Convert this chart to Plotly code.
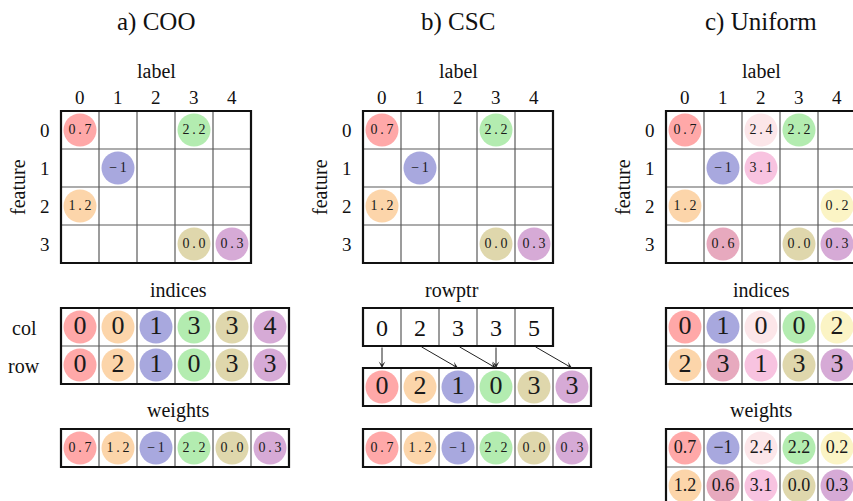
import plotly.graph_objects as go

# ---------------------------------------------------------------- data
panel_titles = ["a) COO", "b) CSC", "c) Uniform"]
label_ticks = ["0", "1", "2", "3", "4"]
feature_ticks = ["0", "1", "2", "3"]

# non-zero entries of the feature x label matrix, ordered by label column
nz_feature = [0, 2, 1, 0, 3, 3]
nz_label = [0, 0, 1, 3, 3, 4]
nz_weight = ["0.7", "1.2", "\u22121", "2.2", "0.0", "0.3"]
nz_color = ["#FFA8A8", "#FCD5AA", "#A8A8DE", "#B3ECB0", "#DFD7AC", "#D6AAD6"]

# compressed column pointers
csc_rowptr = [0, 2, 3, 3, 5]

# uniform layout: two (feature, weight) slots per label
uni_feature = [[0, 1, 0, 0, 2], [2, 3, 1, 3, 3]]
uni_weight = [["0.7", "\u22121", "2.4", "2.2", "0.2"],
              ["1.2", "0.6", "3.1", "0.0", "0.3"]]
uni_color = [["#FFA8A8", "#A8A8DE", "#FCE6E9", "#B3ECB0", "#FBF4C5"],
             ["#FCD5AA", "#E7A9BE", "#F8C3E0", "#DFD7AC", "#D6AAD6"]]

# ---------------------------------------------------------------- geometry
W, H = 853, 501
CELL = 38
PANEL_X = [61, 363, 666]
MAT_TOP = 111
IDX_TOP = 308
PTR_IDX_TOP = 368
W_TOP = 429
DOT = 33
SMALL = 14
FONT = "Liberation Serif"

fig = go.Figure()
shapes, annotations = [], []


def spaced(s):
    return "\u2009".join(s)


def grid(x0, y0, ncol, nrow):
    for i in range(1, ncol):
        x = x0 + i * CELL
        shapes.append(dict(type="line", x0=x, x1=x, y0=y0, y1=y0 + nrow * CELL,
                           line=dict(color="#5a5a5a", width=1.2)))
    for j in range(1, nrow):
        y = y0 + j * CELL
        shapes.append(dict(type="line", x0=x0, x1=x0 + ncol * CELL, y0=y, y1=y,
                           line=dict(color="#5a5a5a", width=1.2)))
    shapes.append(dict(type="rect", x0=x0, x1=x0 + ncol * CELL, y0=y0,
                       y1=y0 + nrow * CELL, line=dict(color="#111111", width=2.2)))


def text(x, y, s, size, angle=0):
    annotations.append(dict(x=x, y=y, text=s, showarrow=False, textangle=angle,
                            font=dict(family=FONT, size=size, color="#111111"),
                            xanchor="center", yanchor="middle"))


def dots(xs, ys, labels, colors, size):
    fig.add_trace(go.Scatter(
        x=xs, y=ys, mode="markers+text", text=labels,
        textposition="middle center",
        textfont=dict(family=FONT, size=size, color="#1a1a1a"),
        marker=dict(size=DOT, color=colors, line=dict(width=0)),
        hoverinfo="skip", showlegend=False, cliponaxis=False))


def cell_center(x0, y0, col, row):
    return x0 + (col + 0.5) * CELL, y0 + (row + 0.5) * CELL


def matrix(px, feats, labels, weights, colors):
    grid(px, MAT_TOP, len(label_ticks), len(feature_ticks))
    for i, t in enumerate(label_ticks):
        text(px + (i + 0.5) * CELL, MAT_TOP - 14, t, 19)
    for j, t in enumerate(feature_ticks):
        text(px - 16, MAT_TOP + (j + 0.5) * CELL, t, 19)
    text(px + 2.5 * CELL, MAT_TOP - 40, "label", 20)
    text(px - 43, MAT_TOP + 2 * CELL, "feature", 20, angle=-90)
    xs, ys = zip(*[cell_center(px, MAT_TOP, c, r) for r, c in zip(feats, labels)])
    dots(list(xs), list(ys), [spaced(w) for w in weights], colors, SMALL)


def row_of_dots(px, top, labels, colors, size, fmt=lambda s: s):
    xs = [cell_center(px, top, i, 0)[0] for i in range(len(labels))]
    ys = [top + CELL / 2] * len(labels)
    dots(xs, ys, [fmt(s) for s in labels], colors, size)


# ---- titles
for px, title in zip(PANEL_X, panel_titles):
    text(px + 2.5 * CELL, 22, title, 25)

# ---- a) COO
pa = PANEL_X[0]
matrix(pa, nz_feature, nz_label, nz_weight, nz_color)
n = len(nz_weight)
grid(pa, IDX_TOP, n, 2)
text(pa + n * CELL / 2 + 3, IDX_TOP - 18, "indices", 20)
text(24, IDX_TOP + CELL / 2 + 1, "col", 20)
text(24, IDX_TOP + 1.5 * CELL + 1, "row", 20)
row_of_dots(pa, IDX_TOP, [str(v) for v in nz_label], nz_color, 26)
row_of_dots(pa, IDX_TOP + CELL, [str(v) for v in nz_feature], nz_color, 26)
grid(pa, W_TOP, n, 1)
text(pa + n * CELL / 2 + 3, W_TOP - 19, "weights", 20)
row_of_dots(pa, W_TOP, nz_weight, nz_color, SMALL, spaced)

# ---- b) CSC
pb = PANEL_X[1]
matrix(pb, nz_feature, nz_label, nz_weight, nz_color)
m = len(csc_rowptr)
grid(pb, IDX_TOP, m, 1)
text(pb + 2.35 * CELL, IDX_TOP - 18, "rowptr", 20)
for i, v in enumerate(csc_rowptr):
    x, y = cell_center(pb, IDX_TOP, i, 0)
    text(x, y + 1, str(v), 24)
    hx = cell_center(pb, PTR_IDX_TOP, v, 0)[0]
    annotations.append(dict(x=hx, y=PTR_IDX_TOP, ax=x, ay=IDX_TOP + CELL,
                            xref="x", yref="y", axref="x", ayref="y", text="",
                            showarrow=True, arrowhead=3, arrowsize=1.1,
                            arrowwidth=1, arrowcolor="#222222", standoff=0))
grid(pb, PTR_IDX_TOP, n, 1)
row_of_dots(pb, PTR_IDX_TOP, [str(v) for v in nz_feature], nz_color, 26)
grid(pb, W_TOP, n, 1)
row_of_dots(pb, W_TOP, nz_weight, nz_color, SMALL, spaced)

# ---- c) Uniform
pc = PANEL_X[2]
k = len(label_ticks)
u_feats, u_labels, u_weights, u_colors = [], [], [], []
for slot in range(2):
    for lab in range(k):
        u_feats.append(uni_feature[slot][lab])
        u_labels.append(lab)
        u_weights.append(uni_weight[slot][lab])
        u_colors.append(uni_color[slot][lab])
matrix(pc, u_feats, u_labels, u_weights, u_colors)
grid(pc, IDX_TOP, k, 2)
text(pc + k * CELL / 2, IDX_TOP - 18, "indices", 20)
grid(pc, W_TOP, k, 2)
text(pc + k * CELL / 2, W_TOP - 19, "weights", 20)
for slot in range(2):
    row_of_dots(pc, IDX_TOP + slot * CELL, [str(v) for v in uni_feature[slot]],
                uni_color[slot], 26)
    row_of_dots(pc, W_TOP + slot * CELL, uni_weight[slot], uni_color[slot], 18)

fig.update_layout(
    width=W, height=H, margin=dict(l=0, r=0, t=0, b=0),
    paper_bgcolor="white", plot_bgcolor="white",
    xaxis=dict(range=[0, W], visible=False, fixedrange=True),
    yaxis=dict(range=[H, 0], visible=False, fixedrange=True),
    shapes=shapes, annotations=annotations, showlegend=False,
)
fig.write_html("out.html")
